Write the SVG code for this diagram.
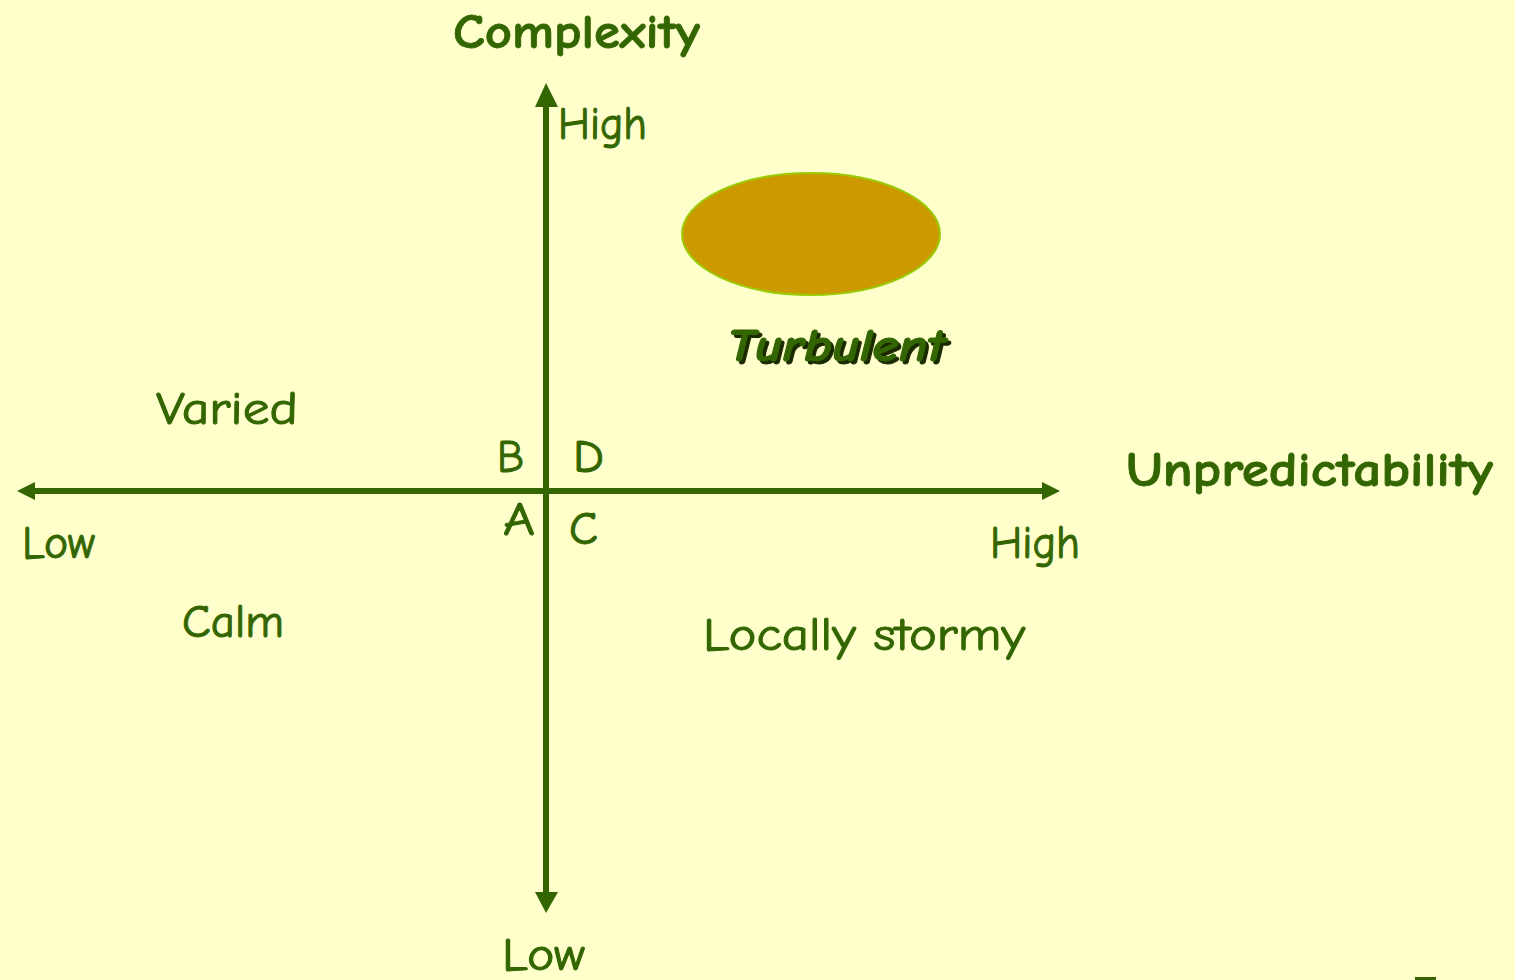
<svg xmlns="http://www.w3.org/2000/svg" width="1515" height="980" viewBox="0 0 1515 980">
<style>
text{font-family:"Comic Sans MS","Comic Neue","DejaVu Sans",sans-serif;fill:#336600}
.n{font-size:46px;stroke:#336600;stroke-width:1}
.b{font-size:48px;font-weight:bold;stroke:#336600;stroke-width:0.8}
.t{font-size:46px;font-weight:bold;font-style:italic;stroke-width:1}
.ax{stroke:#336600;stroke-width:6;fill:none}
.ah{fill:#336600}
</style>
<rect width="1515" height="980" fill="#FFFFCC"/>
<g id="connectors">
<line class="ax" x1="546" y1="100" x2="546" y2="896"/>
<polygon class="ah" points="546,83 535,107 558,107"/>
<polygon class="ah" points="546,913 535,892 558,892"/>
<line class="ax" x1="30" y1="491" x2="1046" y2="491"/>
<polygon class="ah" points="17,491 35,482 35,500"/>
<polygon class="ah" points="1060,491 1042,482 1042,500"/>
</g>
<g id="turbulent-blob">
<ellipse cx="811" cy="234" rx="129" ry="61" fill="#CC9900" stroke="#99CC00" stroke-width="2"/>
</g>
<g id="labels">
<text class="b" x="453" y="48" textLength="247" lengthAdjust="spacingAndGlyphs">Complexity</text>
<text class="n" x="558" y="139" textLength="89" lengthAdjust="spacingAndGlyphs">High</text>
<text class="b" x="1126" y="486" textLength="367" lengthAdjust="spacingAndGlyphs">Unpredictability</text>
<text class="n" x="22" y="558" textLength="73" lengthAdjust="spacingAndGlyphs">Low</text>
<text class="n" x="990" y="558" textLength="90" lengthAdjust="spacingAndGlyphs">High</text>
<text class="n" x="502" y="970" textLength="83" lengthAdjust="spacingAndGlyphs">Low</text>
</g>
<g id="quadrants">
<text class="n" x="156" y="424" textLength="142" lengthAdjust="spacingAndGlyphs">Varied</text>
<text class="n" x="182" y="637" textLength="102" lengthAdjust="spacingAndGlyphs">Calm</text>
<text class="n" x="703" y="650" textLength="322" lengthAdjust="spacingAndGlyphs">Locally stormy</text>
<text class="n" x="497" y="472" textLength="27" lengthAdjust="spacingAndGlyphs">B</text>
<text class="n" x="573" y="472" textLength="31" lengthAdjust="spacingAndGlyphs">D</text>
<text class="n" x="503" y="535" textLength="32" lengthAdjust="spacingAndGlyphs">A</text>
<text class="n" x="569" y="544" textLength="29" lengthAdjust="spacingAndGlyphs">C</text>
</g>
<g id="turbulent-label">
<text class="t" x="730" y="364" textLength="218" lengthAdjust="spacingAndGlyphs" style="fill:#1a2a00;stroke:#1a2a00">Turbulent</text>
<text class="t" x="727" y="361" textLength="218" lengthAdjust="spacingAndGlyphs" style="stroke:#336600">Turbulent</text>
</g>
<rect x="1415" y="977" width="21" height="3" fill="#336600"/>
</svg>
